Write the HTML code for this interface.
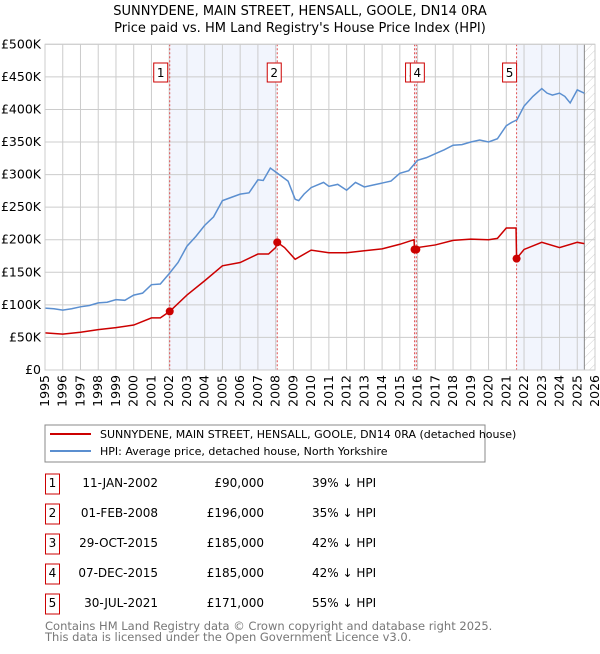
<!DOCTYPE html>
<html><head><meta charset="utf-8"><style>
body{margin:0;background:#fff;font-family:"DejaVu Sans","Liberation Sans",sans-serif}
svg text{font-family:"DejaVu Sans","Liberation Sans",sans-serif}
</style></head><body>
<svg id="c" width="600" height="650" xmlns="http://www.w3.org/2000/svg">
<defs><pattern id="hatch" width="6" height="6" patternUnits="userSpaceOnUse" patternTransform="rotate(45)"><line x1="0" y1="0" x2="0" y2="6" stroke="#d0d0d0" stroke-width="1"/></pattern></defs>
<text x="300" y="15" text-anchor="middle" font-size="13">SUNNYDENE, MAIN STREET, HENSALL, GOOLE, DN14 0RA</text>
<text x="300" y="32" text-anchor="middle" font-size="13">Price paid vs. HM Land Registry's House Price Index (HPI)</text>
<g id="plot"></g>
<rect x="45" y="425" width="440" height="37" fill="#fff" stroke="#888"/>
<line x1="50" y1="434" x2="91" y2="434" stroke="#cc0000" stroke-width="2"/>
<text x="100" y="438" font-size="11">SUNNYDENE, MAIN STREET, HENSALL, GOOLE, DN14 0RA (detached house)</text>
<line x1="50" y1="451" x2="91" y2="451" stroke="#5b8fd0" stroke-width="2"/>
<text x="100" y="455" font-size="11">HPI: Average price, detached house, North Yorkshire</text>
<g id="tbl"></g>
<text x="45" y="630" font-size="11.5" fill="#777">Contains HM Land Registry data © Crown copyright and database right 2025.</text>
<text x="45" y="641" font-size="11.5" fill="#777">This data is licensed under the Open Government Licence v3.0.</text>
</svg>
<script>
const hpiYears=[1995,1995.5,1996,1996.5,1997,1997.5,1998,1998.5,1999,1999.5,2000,2000.5,2001,2001.5,2002,2002.5,2003,2003.5,2004,2004.5,2005,2005.5,2006,2006.5,2007,2007.3,2007.7,2008.1,2008.7,2009.1,2009.3,2009.6,2010,2010.7,2011,2011.5,2012,2012.5,2013,2013.5,2014,2014.5,2015,2015.5,2016,2016.5,2017,2017.5,2018,2018.5,2019,2019.5,2020,2020.5,2021,2021.3,2021.6,2022,2022.5,2023,2023.3,2023.6,2024,2024.3,2024.6,2025,2025.4];
const hpiVals=[95,94,92,94,97,99,103,104,108,107,115,118,131,132,148,165,190,205,222,235,260,265,270,272,292,291,310,302,290,262,260,270,280,288,282,285,276,288,281,284,287,290,302,306,322,326,332,338,345,346,350,353,350,355,375,380,384,405,420,432,425,422,425,420,410,430,425];
const ppYears=[1995,1996,1997,1998,1999,2000,2001,2001.5,2002.03,2003,2004,2005,2006,2007,2007.6,2008.0,2008.09,2008.5,2009.1,2010,2011,2012,2013,2014,2015,2015.8,2015.83,2015.93,2016,2017,2018,2019,2020,2020.5,2021,2021.55,2021.58,2022,2023,2024,2025,2025.4];
const ppVals=[57,55,58,62,65,69,80,80,90,115,137,160,165,178,178,188,196,188,170,184,180,180,183,186,193,200,185,185,188,192,199,201,200,202,218,218,171,185,196,188,196,194];
const saleYears=[2002.03,2008.09,2015.83,2015.93,2021.58];
const salePrices=[90,196,185,185,171];
const saleLabels=["1","2","3","4","5"];
const saleDates=["11-JAN-2002","01-FEB-2008","29-OCT-2015","07-DEC-2015","30-JUL-2021"];
const salePriceText=["£90,000","£196,000","£185,000","£185,000","£171,000"];
const salePct=["39% ↓ HPI","35% ↓ HPI","42% ↓ HPI","42% ↓ HPI","55% ↓ HPI"];
const yTicks=[0,50,100,150,200,250,300,350,400,450,500];
const yTickLabels=["£0","£50K","£100K","£150K","£200K","£250K","£300K","£350K","£400K","£450K","£500K"];
const xTicks=[1995,1996,1997,1998,1999,2000,2001,2002,2003,2004,2005,2006,2007,2008,2009,2010,2011,2012,2013,2014,2015,2016,2017,2018,2019,2020,2021,2022,2023,2024,2025,2026];
const X0=45,X1=595,Y0=370,Y1=44.3;
const x=v=>X0+(v-1995)*(X1-X0)/31;
const y=v=>Y0-v*(Y0-Y1)/500;
const NS="http://www.w3.org/2000/svg";
const plot=document.getElementById('plot');
function mk(tag,attrs,parent){const e=document.createElementNS(NS,tag);for(const k in attrs)e.setAttribute(k,attrs[k]);(parent||plot).appendChild(e);return e;}
let e;
const SH='#f2f5fd';
e=mk('rect',{x:X0,y:Y1,width:X1-X0,height:Y0-Y1,fill:'#fff'});


e=mk('rect',{x:x(saleYears[0]),y:Y1,width:x(saleYears[1])-x(saleYears[0]),height:Y0-Y1,fill:SH});


e=mk('rect',{x:x(saleYears[2]),y:Y1,width:x(saleYears[3])-x(saleYears[2]),height:Y0-Y1,fill:SH});


e=mk('rect',{x:x(saleYears[4]),y:Y1,width:x(2025.4)-x(saleYears[4]),height:Y0-Y1,fill:SH});


e=mk('rect',{x:x(2025.4),y:Y1,width:X1-x(2025.4),height:Y0-Y1,fill:'url(#hatch)'});


yTicks.forEach((t,i)=>{
 e=mk('line',{x1:X0,x2:X1,y1:y(t),y2:y(t),stroke:'#ccc'});
 
 
 e=mk('text',{x:X0-4,y:y(t)+4,'text-anchor':'end','font-size':'12.5'});e.textContent=yTickLabels[i];
 
 
});
xTicks.forEach(t=>{
 e=mk('line',{x1:x(t),x2:x(t),y1:Y1,y2:Y0,stroke:'#ccc'});
 
 
 e=mk('text',{x:0,y:0,'font-size':'12.5','text-anchor':'end',transform:`translate(${x(t)+4},${Y0+5}) rotate(-90)`});e.textContent=t;
 
 
});
e=mk('line',{x1:x(2025.4),x2:x(2025.4),y1:Y1,y2:Y0,stroke:'#888'});


saleYears.forEach((s,i)=>{
 e=mk('line',{x1:x(s),x2:x(s),y1:Y1,y2:Y0,stroke:'#e05050','stroke-dasharray':'2,2'});
 
 
});
e=mk('polyline',{points:hpiYears.map((v,i)=>x(v)+','+y(hpiVals[i])).join(' '),fill:'none',stroke:'#5b8fd0','stroke-width':1.5});


e=mk('polyline',{points:ppYears.map((v,i)=>x(v)+','+y(ppVals[i])).join(' '),fill:'none',stroke:'#cc0000','stroke-width':1.5});


saleYears.forEach((s,i)=>{
 e=mk('circle',{cx:x(s),cy:y(salePrices[i]),r:4,fill:'#cc0000'});
 
 
});
saleYears.forEach((s,i)=>{
 let bx=x(s)-13; if(i===2)bx=x(s)-9; if(i===3)bx=x(s)-6;
 if(i===0)bx=x(s)-16;if(i===1)bx=x(s)-10;if(i===4)bx=x(s)-14;
 e=mk('rect',{x:bx,y:63,width:14,height:19,fill:'#fff',stroke:'#cc0000'});
 
 
 e=mk('text',{x:bx+7,y:77,'text-anchor':'middle','font-size':'12'});e.textContent=saleLabels[i];
 
 
});
e=mk('rect',{x:X0,y:Y1,width:X1-X0,height:Y0-Y1,fill:'none',stroke:'#ccc'});


const tbl=document.getElementById('tbl');
saleLabels.forEach((l,i)=>{
 const cy=483+i*30;
 e=mk('rect',{x:45.5,y:cy-9,width:14,height:20,fill:'#fff',stroke:'#cc0000'},tbl);
 
 
 e=mk('text',{x:52.5,y:cy+4,'text-anchor':'middle','font-size':'12'},tbl);e.textContent=l;
 
 
 e=mk('text',{x:158,y:cy+4,'text-anchor':'end','font-size':'12'},tbl);e.textContent=saleDates[i];
 
 
 e=mk('text',{x:264,y:cy+4,'text-anchor':'end','font-size':'12'},tbl);e.textContent=salePriceText[i];
 
 
 e=mk('text',{x:312,y:cy+4,'font-size':'12'},tbl);e.textContent=salePct[i];
 
 
});
</script>
</body></html>
